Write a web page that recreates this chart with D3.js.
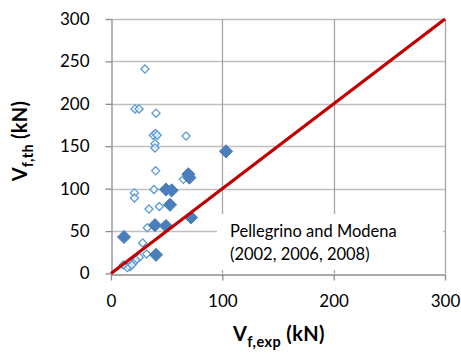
<!DOCTYPE html>
<html><head><meta charset="utf-8">
<script src="https://cdn.jsdelivr.net/npm/d3@7"></script>
<style>body{margin:0;background:#fff}svg{display:block}</style>
</head><body>
<svg id="c" width="461" height="361"></svg>
<script>
const xTicks=[0,100,200,300];
const yTicks=[0,50,100,150,200,250,300];
const openX=[30.5,21.6,25.2,40.4,38,40,41.5,67.4,39.5,39.5,40.1,65,38.6,21,21,43.4,34.1,32.6,28.5,32,25.4,22.5,20,17,14.7,11,18.6];
const openY=[241,194,194,189,163,165,163,162,153,148,121,111,99,95,89,79,76,54,36,23,19,16,12,8,7,10,10];
const filledX=[103.3,69.5,70.4,49.4,54.5,53,71.9,39.5,49.4,11.7,40.4];
const filledY=[144,117,113,99,98,81,66,57,56,43,22];
const lineX=[0,300], lineY=[0,300];
const note=["Pellegrino and Modena","(2002, 2006, 2008)"];

const svg=d3.select("#c");
const x=d3.scaleLinear().domain([0,300]).range([111,445]);
const y=d3.scaleLinear().domain([0,300]).range([273.5,19]);
const F="Lato, 'Open Sans', sans-serif";

// grid
svg.append("g").selectAll("line").data(yTicks.slice(1)).join("line")
 .attr("x1",x(0)).attr("x2",x(300)).attr("y1",d=>Math.round(y(d))+0.5).attr("y2",d=>Math.round(y(d))+0.5)
 .attr("stroke","#bfbfbf").attr("stroke-width",1.3);
svg.append("g").selectAll("line").data(xTicks.slice(1)).join("line")
 .attr("y1",y(0)).attr("y2",y(300)).attr("x1",d=>Math.round(x(d))+0.5).attr("x2",d=>Math.round(x(d))+0.5)
 .attr("stroke","#a6a6a6").attr("stroke-width",1.3);

// axes
const xa=svg.append("g").attr("transform",`translate(0,${Math.round(y(0))+0.5})`)
 .call(d3.axisBottom(x).tickValues(xTicks).tickSize(6).tickSizeOuter(0).tickPadding(14));
const ya=svg.append("g").attr("transform",`translate(${Math.round(x(0))+0.5},0)`)
 .call(d3.axisLeft(y).tickValues(yTicks).tickSize(6).tickSizeOuter(0).tickPadding(14));
[xa,ya].forEach(a=>{a.select(".domain").attr("stroke","#8c8c8c").attr("stroke-width",1.3);
 a.selectAll(".tick line").attr("stroke","#8c8c8c").attr("stroke-width",1.3);
 a.selectAll("text").attr("font-family",F).attr("font-size",17).attr("fill","#000");});
ya.selectAll("text").attr("dx",-2);

// text box
svg.append("rect").attr("x",217).attr("y",214).attr("width",226).attr("height",56).attr("fill","#fff");
svg.append("g").selectAll("text").data(note).join("text")
 .attr("x",230).attr("y",(d,i)=>237+i*23).attr("font-family",F).attr("font-size",16.5).attr("fill","#000").text(d=>d);

// points
const dia=(s)=>d3.symbol().type(d3.symbolDiamond2).size(s);
svg.append("g").selectAll("path").data(openX.map((v,i)=>[v,openY[i]])).join("path")
 .attr("transform",d=>`translate(${x(d[0])},${y(d[1])})`).attr("d",dia(42)())
 .attr("fill","#fff").attr("fill-opacity",0.6).attr("stroke","#5b9bd5").attr("stroke-width",1.3);
svg.append("g").selectAll("path").data(filledX.map((v,i)=>[v,filledY[i]])).join("path")
 .attr("transform",d=>`translate(${x(d[0])},${y(d[1])})`).attr("d",dia(110)())
 .attr("fill","#4a7ebb").attr("stroke","#4a7ebb").attr("stroke-width",1);

// red line
svg.append("line").attr("x1",x(lineX[0])).attr("y1",y(lineY[0])).attr("x2",x(lineX[1])).attr("y2",y(lineY[1]))
 .attr("stroke","#c00000").attr("stroke-width",3.2);

// axis titles
const xt=svg.append("text").attr("x",279).attr("y",341).attr("text-anchor","middle").attr("font-family",F).attr("font-weight","bold").attr("font-size",20).attr("letter-spacing",0.4);
xt.append("tspan").text("V");
xt.append("tspan").attr("font-size",14.5).attr("dy",6).text("f,exp");
xt.append("tspan").attr("dy",-6).text(" (kN)");
const yt=svg.append("text").attr("transform","translate(27,141) rotate(-90)").attr("text-anchor","middle").attr("font-family",F).attr("font-weight","bold").attr("font-size",20).attr("letter-spacing",0.3);
yt.append("tspan").text("V");
yt.append("tspan").attr("font-size",14.5).attr("dy",6).text("f,th");
yt.append("tspan").attr("dy",-6).text(" (kN)");
</script>
</body></html>
